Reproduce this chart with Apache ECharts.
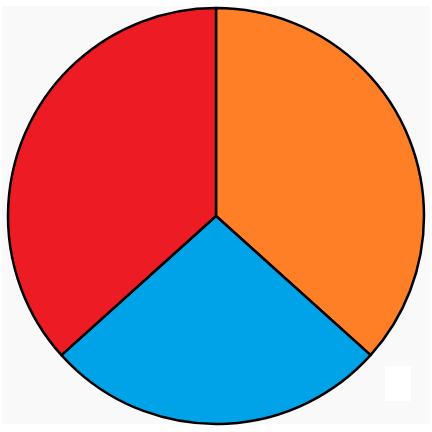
<!DOCTYPE html>
<html><head><meta charset="utf-8">
<script src="https://cdn.jsdelivr.net/npm/echarts@6/dist/echarts.min.js"></script>
<style>html,body{margin:0;padding:0;background:#fff}#c{width:432px;height:432px}</style>
</head><body><div id="c"></div>
<script>
const categories = ['Orange', 'Blue', 'Red'];
const values = [11, 8, 11];
const colors = ['#FF7F27', '#00A2E8', '#ED1C24'];

const chart = echarts.init(document.getElementById('c'), null, {renderer: 'canvas'});
chart.setOption({
  backgroundColor: '#ffffff',
  animation: false,
  graphic: [
    {type: 'rect', z: -10, shape: {x: 2, y: 6, width: 428, height: 418}, style: {fill: '#f9f9f9'}},
    {type: 'rect', z: 10, shape: {x: 385, y: 366, width: 26, height: 35}, style: {fill: '#ffffff'}}
  ],
  series: [{
    type: 'pie',
    center: [216, 216],
    radius: [0, 208],
    startAngle: 90,
    clockwise: true,
    label: {show: false},
    labelLine: {show: false},
    emphasis: {disabled: true},
    itemStyle: {borderColor: '#000', borderWidth: 2.5},
    data: categories.map((n, i) => ({name: n, value: values[i], itemStyle: {color: colors[i]}}))
  }]
});
</script></body></html>
